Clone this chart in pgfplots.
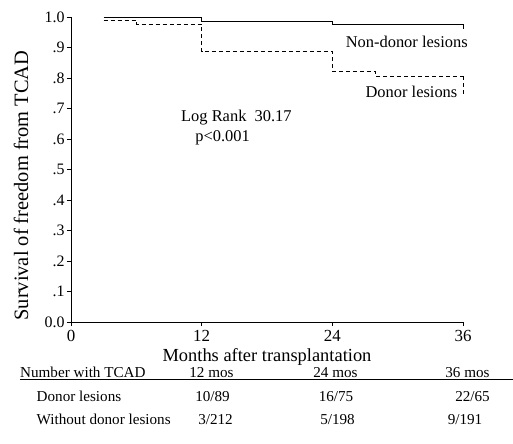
\documentclass[border=0pt]{standalone}
\usepackage{pgfplots}
\pgfplotsset{compat=1.18}
\usepackage{fontspec}
\setmainfont{Liberation Serif}
\begin{document}
\begin{tikzpicture}[x=1bp,y=1bp]
\path[use as bounding box] (-71bp,-122bp) rectangle (442bp,322bp);
\begin{axis}[
  at={(0,0)}, anchor=origin,
  scale only axis, width=392bp, height=305bp,
  xmin=0, xmax=36, ymin=0, ymax=1,
  axis x line*=bottom, axis y line*=left,
  axis line style={line width=0.8pt,-},
  xtick={0,12,24,36},
  ytick={0,0.1,0.2,0.3,0.4,0.5,0.6,0.7,0.8,0.9,1.0},
  yticklabels={0.0,.1,.2,.3,.4,.5,.6,.7,.8,.9,1.0},
  tick align=outside, major tick length=4bp,
  tick style={line width=0.8pt,black},
  /pgf/number format/assume math mode=true,
  x tick label style={font=\fontsize{17}{19}\selectfont, yshift=-1bp},
  y tick label style={font=\fontsize{16}{18}\selectfont, xshift=1bp},
  xlabel={Months after transplantation},
  xlabel style={font=\fontsize{18.5}{21}\selectfont, yshift=0bp},
  clip=false,
]
\addplot[black, line width=0.9pt, const plot] coordinates {
  (3,1.0) (12,0.986) (24,0.976) (36,0.976)};
\addplot[black, line width=0.9pt] coordinates {(36,0.976) (36,0.962)};
\addplot[black, line width=0.9pt, const plot, dash pattern=on 4bp off 3bp] coordinates {
  (3,0.99) (6,0.977) (12,0.886) (24,0.82) (28,0.805) (36,0.805)};
\addplot[black, line width=0.9pt, dash pattern=on 4bp off 3bp] coordinates {(36,0.805) (36,0.745)};
\node[anchor=east, font=\fontsize{16.5}{19}\selectfont, inner sep=0pt] at (axis cs:36.45,0.918) {Non-donor lesions};
\node[anchor=east, font=\fontsize{16.5}{19}\selectfont, inner sep=0pt] at (axis cs:35.5,0.754) {Donor lesions};
\node[anchor=west, font=\fontsize{16.5}{19}\selectfont, inner sep=0pt] at (axis cs:10.1,0.669) {Log Rank\ \ 30.17};
\node[anchor=west, font=\fontsize{16.5}{19}\selectfont, inner sep=0pt] at (axis cs:11.4,0.603) {p<0.001};
\end{axis}
\node[rotate=90, font=\fontsize{20.5}{23}\selectfont, inner sep=0pt] at (-50bp,136.5bp) {Survival of freedom from TCAD};
\begin{scope}[every node/.style={font=\fontsize{15.2}{18}\selectfont, inner sep=0pt, anchor=base}]
\node[anchor=base west] at (-51bp,-55.5bp) {Number with TCAD};
\node at (140.5bp,-55.5bp) {12 mos};
\node at (264.5bp,-55.5bp) {24 mos};
\node at (396.5bp,-55.5bp) {36 mos};
\draw[line width=0.6pt] (-51bp,-57bp) -- (442bp,-57bp);
\node[anchor=base west] at (-34.5bp,-79.5bp) {Donor lesions};
\node at (141.5bp,-79.5bp) {10/89};
\node at (265bp,-79.5bp) {16/75};
\node at (401.5bp,-79.5bp) {22/65};
\node[anchor=base west] at (-34.5bp,-102.5bp) {Without donor lesions};
\node at (144.5bp,-102.5bp) {3/212};
\node at (266.5bp,-102.5bp) {5/198};
\node at (394bp,-102.5bp) {9/191};
\end{scope}
\end{tikzpicture}
\end{document}
